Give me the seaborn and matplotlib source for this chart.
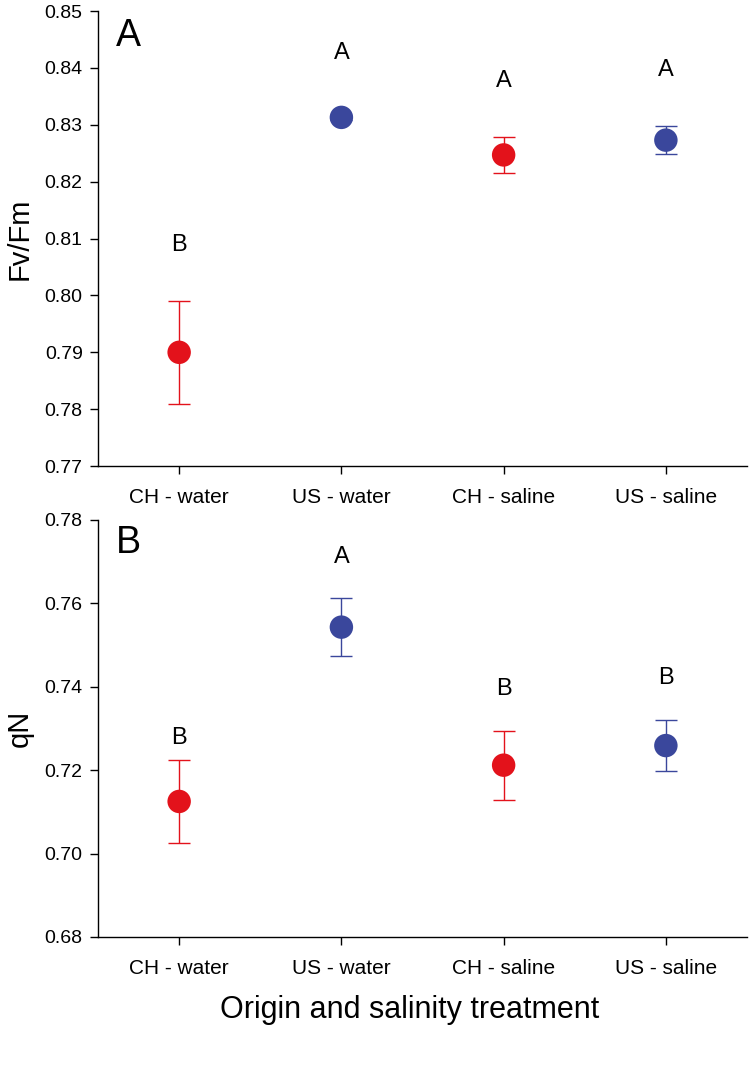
import numpy as np
import pandas as pd
import matplotlib
matplotlib.use("Agg")
import matplotlib.pyplot as plt
import seaborn as sns

categories = ["CH - water", "US - water", "CH - saline", "US - saline"]
origin = ["CH", "US", "CH", "US"]

fvfm_mean = [0.790, 0.8313, 0.8247, 0.8273]
fvfm_err = [0.0090, 0.0005, 0.0031, 0.0024]
fvfm_letters = ["B", "A", "A", "A"]
fvfm_letter_y = [0.8089, 0.8426, 0.8377, 0.8397]

qn_mean = [0.7125, 0.7543, 0.7212, 0.7259]
qn_err = [0.0100, 0.0069, 0.0083, 0.0062]
qn_letters = ["B", "A", "B", "B"]
qn_letter_y = [0.7277, 0.7711, 0.7395, 0.7420]

fvfm_ticks = [0.77, 0.78, 0.79, 0.80, 0.81, 0.82, 0.83, 0.84, 0.85]
qn_ticks = [0.68, 0.70, 0.72, 0.74, 0.76, 0.78]

palette = {"CH": "#E3121B", "US": "#3A479C"}

sns.set_theme(style="ticks")
plt.rcParams["font.family"] = ["Liberation Sans", "DejaVu Sans"]
plt.rcParams["text.color"] = "black"
plt.rcParams["axes.labelcolor"] = "black"

fig = plt.figure(figsize=(7.5, 10.69), dpi=100)
ax1 = fig.add_axes([0.1307, 0.564, 0.8653, 0.4257])
ax2 = fig.add_axes([0.1307, 0.1235, 0.8653, 0.3901])

def draw(ax, means, errs, letters, letter_y, ticks, ylabel, panel):
    df = pd.DataFrame({"cat": categories, "val": means, "err": errs, "origin": origin})
    pos = np.arange(len(categories))
    for i, r in df.iterrows():
        ax.errorbar(pos[i], r["val"], yerr=r["err"], fmt="none",
                    ecolor=palette[r["origin"]], elinewidth=1.0,
                    capsize=8, capthick=1.0, zorder=2)
    sns.scatterplot(data=df, x="cat", y="val", hue="origin", palette=palette,
                    s=285, edgecolor="none", legend=False, ax=ax, zorder=3)
    for i, (t, y) in enumerate(zip(letters, letter_y)):
        ax.text(pos[i], y, t, ha="center", va="center", fontsize=17, color="black")
    ax.text(0.027, 0.945, panel, transform=ax.transAxes, fontsize=27,
            ha="left", va="center", color="black")
    ax.set_xlim(-0.5, 3.5)
    ax.set_ylim(ticks[0], ticks[-1])
    ax.set_yticks(ticks)
    ax.set_yticklabels([f"{t:.2f}" for t in ticks], fontsize=14)
    ax.set_xticks(pos)
    ax.set_xticklabels(categories, fontsize=15)
    ax.set_ylabel(ylabel, fontsize=21, labelpad=8, color="black")
    ax.set_xlabel("")
    ax.tick_params(axis="both", direction="out", length=6, width=1, colors="black")
    ax.tick_params(axis="y", pad=5)
    ax.tick_params(axis="x", pad=10)
    for s in ["top", "right"]:
        ax.spines[s].set_visible(False)
    for s in ["left", "bottom"]:
        ax.spines[s].set_linewidth(1.0)
        ax.spines[s].set_color("black")

draw(ax1, fvfm_mean, fvfm_err, fvfm_letters, fvfm_letter_y, fvfm_ticks, "Fv/Fm", "A")
draw(ax2, qn_mean, qn_err, qn_letters, qn_letter_y, qn_ticks, "qN", "B")
ax2.set_xlabel("Origin and salinity treatment", fontsize=22, color="black")
ax2.xaxis.set_label_coords(0.48, -0.138)

fig.savefig("out.png", dpi=100)
